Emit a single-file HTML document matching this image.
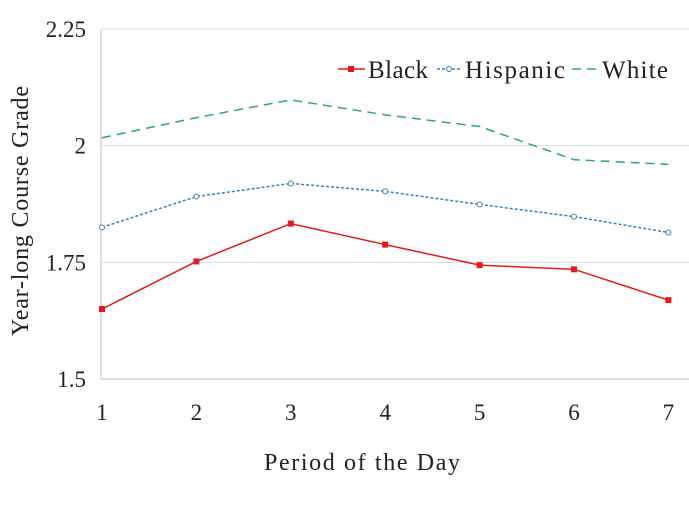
<!DOCTYPE html>
<html><head><meta charset="utf-8"><style>
body{margin:0;background:#fff}
svg text{font-family:"Liberation Serif",serif;fill:#222}
</style></head><body>
<svg id="chart" width="689" height="500"></svg>
<script>
const periods=[1,2,3,4,5,6,7];
const yTicks=[1.5,1.75,2,2.25];
const yTickLabels=["1.5","1.75","2","2.25"];
const black=[1.65,1.752,1.833,1.788,1.744,1.735,1.669];
const hispanic=[1.825,1.891,1.919,1.902,1.874,1.848,1.814];
const white=[2.017,2.06,2.098,2.066,2.041,1.97,1.96];
const NS="http://www.w3.org/2000/svg";
const svg=document.getElementById('chart');
const x=p=>102+(p-1)*94.4;
const y=v=>379-(v-1.5)*(350/0.75);
function mk(t,a,p){const e=document.createElementNS(NS,t);for(const k in a)e.setAttribute(k,a[k]);(p||svg).appendChild(e);return e;}
yTicks.forEach((t,i)=>{
 if(t>1.5){const g=mk('line',{x1:101,x2:689,y1:y(t),y2:y(t),stroke:'#d5dde3','stroke-width':1});
 
 }
 const l=mk('text',{x:86,y:y(t)+8,'text-anchor':'end','font-size':23});l.textContent=yTickLabels[i];
 
 
});
const ax=mk('line',{x1:101,x2:101,y1:29,y2:379,stroke:'#b8bec4','stroke-width':1});


const bx=mk('line',{x1:101,x2:689,y1:379,y2:379,stroke:'#b8bec4','stroke-width':1});


periods.forEach(p=>{const l=mk('text',{x:x(p),y:420,'text-anchor':'middle','font-size':23});l.textContent=p;
 
 });
const xt=mk('text',{x:362,y:470,'text-anchor':'middle','font-size':24,textLength:196});xt.textContent='Period of the Day';


const yt=mk('text',{x:0,y:0,'text-anchor':'middle','font-size':24,textLength:250,transform:'translate(28,211) rotate(-90)'});yt.textContent='Year-long Course Grade';


function series(vals,color,dash,marker,name){
 const pts=vals.map((v,i)=>x(periods[i])+','+y(v)).join(' ');
 const pl=mk('polyline',{points:pts,fill:'none',stroke:color,'stroke-width':1.5,'stroke-dasharray':dash});
 
 
 vals.forEach((v,i)=>{
  let m;
  if(marker==='sq')m=mk('rect',{x:x(periods[i])-3,y:y(v)-3,width:6,height:6,fill:color});
  else if(marker==='circ')m=mk('circle',{cx:x(periods[i]),cy:y(v),r:2.5,fill:'#fff',stroke:color,'stroke-width':1});
  if(m){
  }
 });
}
series(white,'#2eaa66','9,6',null,'white');
series(hispanic,'#3b80b8','3,2','circ','hispanic');
series(black,'#e01c1c','none','sq','black');
// legend
const lg=mk('g',{});


mk('line',{x1:338,x2:365,y1:69,y2:69,stroke:'#e01c1c','stroke-width':1.5},lg);
mk('rect',{x:348,y:66,width:6,height:6,fill:'#e01c1c'},lg);
let t=mk('text',{x:368,y:78,'font-size':25,textLength:60},lg);t.textContent='Black';
mk('line',{x1:437,x2:462,y1:69,y2:69,stroke:'#3b80b8','stroke-width':1.5,'stroke-dasharray':'3,2'},lg);
mk('circle',{cx:449,cy:69,r:2.5,fill:'#fff',stroke:'#3b80b8'},lg);
t=mk('text',{x:465,y:78,'font-size':25,textLength:100},lg);t.textContent='Hispanic';
mk('line',{x1:572,x2:598,y1:69,y2:69,stroke:'#2eaa66','stroke-width':1.5,'stroke-dasharray':'9,6'},lg);
t=mk('text',{x:602,y:78,'font-size':25,textLength:66},lg);t.textContent='White';
</script>
</body></html>
